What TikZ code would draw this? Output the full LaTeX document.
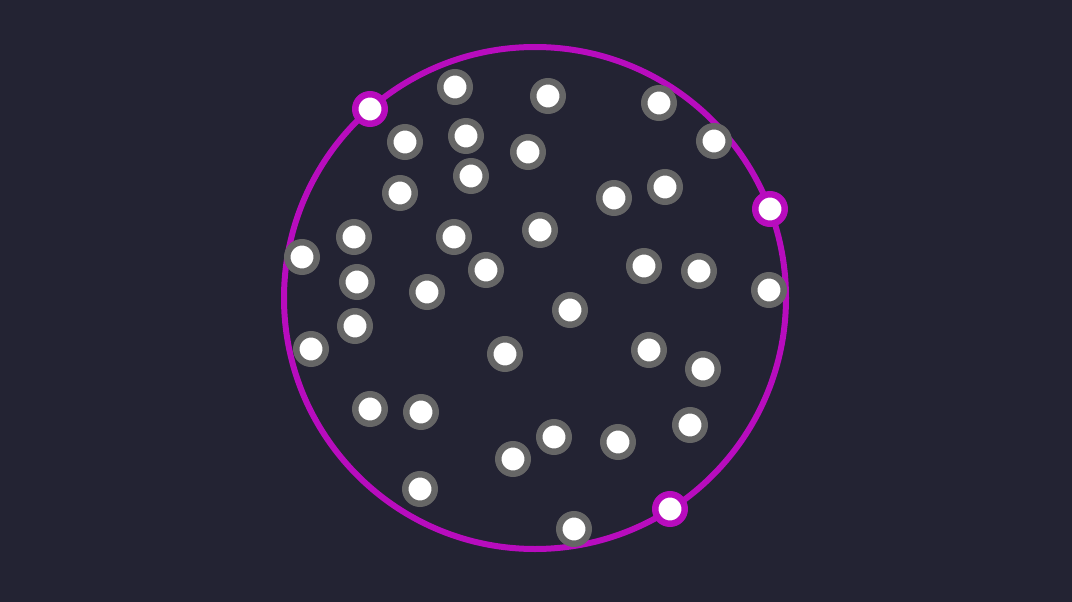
\documentclass[tikz,border=0pt]{standalone}
\usepackage{tikz}
\usetikzlibrary{positioning}
\definecolor{bgnavy}{RGB}{35,35,51}
\definecolor{ringgray}{RGB}{102,102,102}
\definecolor{hullpink}{RGB}{184,12,190}
\begin{document}
\begin{tikzpicture}[
x=1pt, y=-1pt,
pt/.style={
  draw=ringgray,
  fill=white,
  circle,
  line width=6.5pt,
  inner sep=0pt,
  minimum size=29.5pt
  },
hullpt/.style={
  pt,
  draw=hullpink
  },
enclose/.style={
  draw=hullpink,
  circle,
  line width=6pt,
  inner sep=0pt,
  minimum size=502pt
  }
]
\fill[bgnavy] (0,0) rectangle (1072,602);
\useasboundingbox (0,0) rectangle (1072,602);
\node[enclose] (disc) at (535,298) {};
% scattered points
\foreach \px/\py [count=\i] in {455/87, 548/96, 659/103, 405/142, 466/136, 528/152,
  714/141, 471/176, 400/193, 614/198, 665/187, 354/237, 454/237, 540/230,
  302/257, 357/282, 486/270, 644/266, 699/271, 427/292, 769/290, 570/310,
  355/326, 311/349, 505/354, 649/350, 703/369, 370/409, 421/412, 554/437,
  618/442, 690/425, 513/459, 420/489, 574/529}
  \node[pt] (p\i) at (\px,\py) {};
% points on the circle
\node[hullpt] (h1) at (370,109) {};
\node[hullpt] (h2) at (770,209) {};
\node[hullpt] (h3) at (670,509) {};
\end{tikzpicture}
\end{document}
